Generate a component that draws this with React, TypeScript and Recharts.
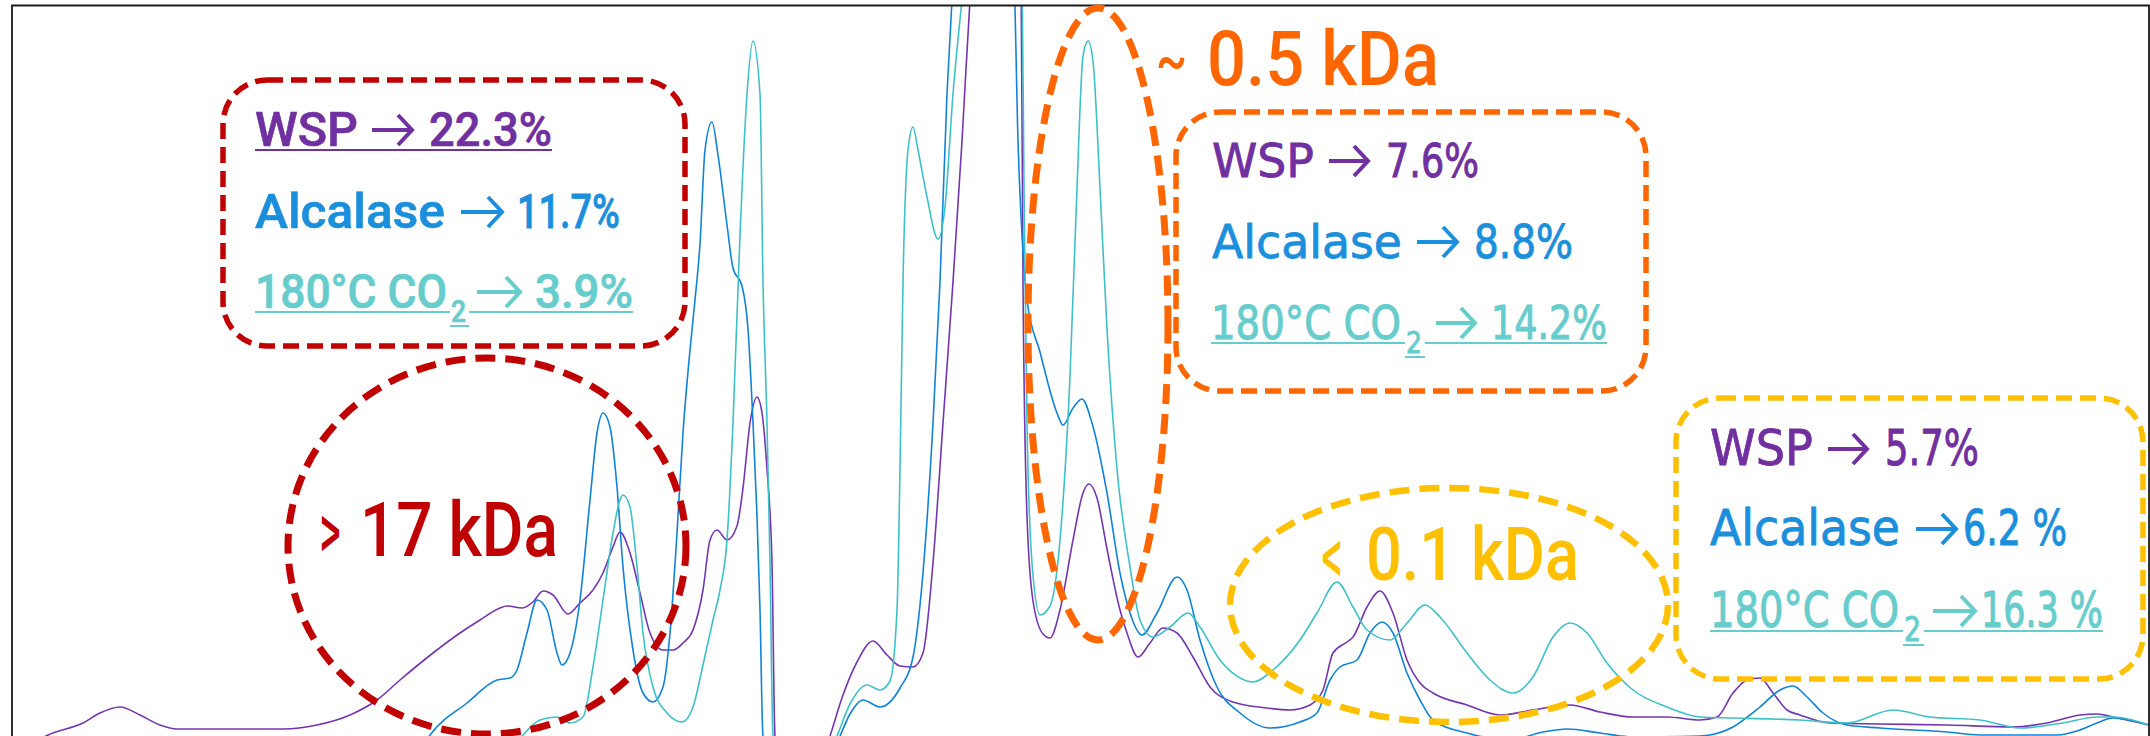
import { useLayoutEffect, useRef, useState } from "react"
import type { ReactNode } from "react"
import { LineChart, Line, XAxis, YAxis } from "recharts"

// elution position (same units as the x axis) and detector response
const wsp: [number, number][] = [
  [30, -9], [48, 1], [83, 13], [100, 23], [120, 29], [140, 21], [160, 11], [177, 7],
  [233, 7], [283, 7], [317, 11], [350, 21], [377, 36], [400, 56], [433, 83], [460, 103],
  [480, 116], [500, 128], [507, 130], [522, 128], [533, 134], [543, 145], [553, 141],
  [568, 122], [580, 133], [593, 146], [603, 163], [613, 189], [620, 204], [630, 183],
  [640, 143], [650, 103], [663, 86], [673, 86], [683, 93], [693, 106], [703, 146],
  [710, 196], [717, 206], [727, 196], [737, 210], [743, 248], [750, 313], [757, 339],
  [762, 323], [767, 267], [772, 173], [775, 0], [790, -44], [815, -44], [830, 0],
  [843, 41], [857, 74], [873, 95], [887, 81], [900, 70], [913, 69], [923, 83], [933, 173],
  [943, 313], [953, 454], [962, 595], [970, 736], [980, 850], [995, 900], [1010, 850],
  [1021, 760], [1023, 454], [1027, 220], [1033, 135], [1043, 102], [1050, 98], [1060, 126],
  [1073, 196], [1083, 243], [1089, 252], [1097, 238], [1107, 187], [1120, 126], [1127, 103],
  [1138, 79], [1150, 93], [1163, 108], [1177, 103], [1193, 79], [1210, 49], [1233, 34],
  [1267, 28], [1290, 26], [1310, 31], [1323, 46], [1333, 83], [1347, 94], [1353, 99],
  [1367, 129], [1380, 145], [1393, 123], [1407, 76], [1420, 53], [1433, 43], [1467, 31],
  [1500, 21], [1533, 26], [1570, 31], [1600, 24], [1633, 19], [1667, 19], [1700, 16],
  [1717, 19], [1733, 43], [1747, 56], [1760, 58], [1773, 43], [1787, 26], [1800, 21],
  [1830, 13], [1880, 12], [1947, 11], [2013, 9], [2047, 13], [2080, 21], [2097, 22],
  [2113, 19], [2149, 11],
]

const alcalase: [number, number][] = [
  [420, -14], [430, 1], [467, 33], [497, 56], [510, 58], [517, 66], [527, 103], [537, 136],
  [547, 126], [557, 83], [562, 71], [570, 83], [580, 136], [590, 236], [597, 303], [603, 323],
  [610, 309], [617, 249], [623, 169], [633, 86], [643, 43], [653, 34], [663, 49], [670, 103],
  [677, 203], [683, 303], [690, 386], [695, 436], [700, 492], [705, 586], [712, 614],
  [718, 581], [727, 511], [733, 468], [742, 450], [748, 407], [753, 313], [757, 220],
  [760, 126], [763, 0], [790, -54], [815, -54], [840, 0], [850, 22], [863, 36], [880, 29],
  [900, 48], [913, 79], [920, 131], [933, 313], [940, 454], [947, 642], [952, 736],
  [965, 850], [985, 900], [1005, 850], [1014, 760], [1018, 595], [1022, 501], [1027, 436],
  [1040, 384], [1057, 323], [1063, 311], [1073, 328], [1082, 337], [1092, 313], [1107, 243],
  [1120, 163], [1130, 123], [1142, 101], [1157, 123], [1177, 159], [1187, 146], [1200, 96],
  [1217, 49], [1240, 23], [1270, 8], [1300, 14], [1317, 23], [1330, 56], [1340, 69],
  [1357, 76], [1370, 103], [1382, 114], [1393, 103], [1407, 63], [1420, 36], [1433, 16],
  [1467, 3], [1483, -1], [1510, -4], [1543, 4], [1567, 7], [1600, 3], [1633, -1], [1700, 0],
  [1733, 9], [1760, 29], [1780, 46], [1793, 50], [1807, 39], [1823, 23], [1847, 11],
  [1880, 8], [1947, 4], [1980, 1], [2057, 1], [2080, 6], [2097, 13], [2113, 18], [2149, 11],
]

const co2: [number, number][] = [
  [515, -9], [523, 1], [540, 16], [557, 19], [570, 13], [583, 19], [593, 69], [603, 136],
  [613, 203], [620, 236], [623, 241], [630, 229], [637, 169], [643, 103], [653, 49],
  [667, 23], [682, 14], [693, 29], [703, 71], [713, 116], [720, 146], [727, 196], [733, 313],
  [740, 501], [747, 642], [753, 695], [760, 642], [763, 454], [767, 313], [770, 173],
  [773, 0], [795, -50], [815, -50], [837, 0], [850, 32], [867, 51], [880, 46], [890, 55],
  [897, 126], [900, 267], [903, 454], [908, 586], [913, 609], [918, 586], [927, 539],
  [938, 497], [945, 529], [953, 642], [962, 736], [975, 850], [995, 900], [1012, 850],
  [1022, 760], [1024, 548], [1027, 313], [1032, 173], [1040, 121], [1050, 130], [1060, 196],
  [1070, 360], [1077, 548], [1083, 680], [1088, 695], [1093, 675], [1100, 548], [1107, 407],
  [1117, 267], [1130, 169], [1140, 116], [1153, 99], [1170, 109], [1188, 123], [1200, 109],
  [1220, 76], [1240, 58], [1253, 54], [1273, 66], [1300, 96], [1317, 123], [1337, 154],
  [1353, 129], [1367, 106], [1390, 96], [1407, 113], [1425, 131], [1440, 119], [1467, 83],
  [1490, 56], [1513, 43], [1533, 59], [1553, 99], [1570, 113], [1587, 103], [1607, 73],
  [1633, 46], [1667, 29], [1700, 19], [1733, 18], [1800, 16], [1847, 13], [1893, 26],
  [1930, 19], [1980, 16], [2020, 8], [2063, 13], [2097, 19], [2113, 19], [2149, 11],
]

const fractionLabels = ["17 kDa", "0.5 kDa", "0.1 kDa"]
const wspShare = ["22.3%", "7.6%", "5.7%"]
const alcalaseShare = ["11.7%", "8.8%", "6.2 %"]
const co2Share = ["3.9%", "14.2%", "16.3 %"]

const PURPLE = "#7030A0"
const BLUE = "#1B8FDB"
const TEAL = "#66CCCC"
const RED = "#C00000"
const ORANGE = "#FF6600"
const GOLD = "#FFC000"

const rows = (pts: [number, number][]) => pts.map(([x, y]) => ({ x, y }))

// text squeezed/stretched horizontally to span [x0, x1]
function FitText(props: {
  x0: number
  x1: number
  y: number
  size: number
  fill: string
  family?: string
  weight?: number
  thicken?: number
  children: ReactNode
}) {
  const { x0, x1, y, size, fill, family, weight, thicken = 0, children } = props
  const ref = useRef<SVGTextElement>(null)
  const [sx, setSx] = useState(1)
  useLayoutEffect(() => {
    const n = ref.current?.getComputedTextLength()
    if (n) setSx((x1 - x0) / n)
  }, [x0, x1, size, family])
  return (
    <text
      ref={ref}
      transform={`translate(${x0} ${y}) scale(${sx} 1)`}
      fontSize={size}
      fontFamily={family}
      fontWeight={weight}
      fill={fill}
      stroke={thicken ? fill : undefined}
      strokeWidth={thicken ? thicken / sx : undefined}
    >
      {children}
    </text>
  )
}

// [name start, name end, arrow start, arrow end, value start, value end]
type Span = number[]

type BoxProps = {
  x: number
  y: number
  w: number
  h: number
  color: string
  font: string
  weight: number
  thicken: number
  base: number[]
  l1: Span
  l2: Span
  l3: Span
  sub: number[]
  size: number
  idx: number
  ulFirst?: boolean
}

function Arrow({ x0, x1, base, color }: { x0: number; x1: number; base: number; color: string }) {
  const mid = base - 16
  const hw = 15
  return (
    <g fill="none" stroke={color} strokeWidth={4}>
      <line x1={x0} x2={x1 - 2} y1={mid} y2={mid} />
      <polyline points={`${x1 - hw},${mid - hw} ${x1 - 1},${mid} ${x1 - hw},${mid + hw}`} />
    </g>
  )
}

function ShareBox(p: BoxProps) {
  const t = { size: p.size, family: p.font, weight: p.weight, thicken: p.thicken }
  const lines = [
    { s: p.l1, name: "WSP", val: wspShare[p.idx], c: PURPLE, b: p.base[0] },
    { s: p.l2, name: "Alcalase", val: alcalaseShare[p.idx], c: BLUE, b: p.base[1] },
  ]
  const b3 = p.base[2]
  return (
    <g>
      <rect x={p.x} y={p.y} width={p.w} height={p.h} rx={44} fill="none" stroke={p.color} strokeWidth={5.5} strokeDasharray="16 8" />
      {lines.map((l) => (
        <g key={l.name}>
          <FitText x0={l.s[0]} x1={l.s[1]} y={l.b} fill={l.c} {...t}>{l.name}</FitText>
          <Arrow x0={l.s[2]} x1={l.s[3]} base={l.b} color={l.c} />
          <FitText x0={l.s[4]} x1={l.s[5]} y={l.b} fill={l.c} {...t}>{l.val}</FitText>
        </g>
      ))}
      {p.ulFirst && <line x1={p.l1[0]} x2={p.l1[5]} y1={p.base[0] + 4} y2={p.base[0] + 4} stroke={PURPLE} strokeWidth={2} />}
      <FitText x0={p.l3[0]} x1={p.l3[1]} y={b3} fill={TEAL} {...t}>180°C CO</FitText>
      <FitText x0={p.sub[0]} x1={p.sub[1]} y={b3 + 14} fill={TEAL} {...t} size={Math.round(p.size * 0.66)}>2</FitText>
      <Arrow x0={p.l3[2]} x1={p.l3[3]} base={b3} color={TEAL} />
      <FitText x0={p.l3[4]} x1={p.l3[5]} y={b3} fill={TEAL} {...t}>{co2Share[p.idx]}</FitText>
      <g stroke={TEAL} strokeWidth={2}>
        <line x1={p.l3[0]} x2={p.sub[0] - 1} y1={b3 + 4} y2={b3 + 4} />
        <line x1={p.sub[0] - 1} x2={p.sub[1] + 3} y1={b3 + 18} y2={b3 + 18} />
        <line x1={p.sub[1] + 3} x2={p.l3[5]} y1={b3 + 4} y2={b3 + 4} />
      </g>
    </g>
  )
}

function Annotations() {
  return (
    <svg width={2150} height={736} style={{ position: "absolute", left: 0, top: 0, pointerEvents: "none" }}>
      <path d="M12,740 L12,5.5 L2149,5.5 L2149,740" fill="none" stroke="#1a1a1a" strokeWidth={1.8} />

      <ShareBox x={223} y={80} w={462} h={266} color={RED} font="Roboto" weight={500} thicken={0.6}
        base={[146, 228, 308]}
        l1={[255, 358, 372, 413, 429, 552]}
        l2={[255, 445, 461, 503, 517, 620]}
        l3={[255, 447, 477, 521, 535, 633]} sub={[451, 466]}
        size={48} idx={0} ulFirst />
      <ShareBox x={1176} y={112} w={470} h={279} color={ORANGE} font="DejaVu Sans" weight={400} thicken={0.8}
        base={[177, 258, 339]}
        l1={[1212, 1314, 1329, 1369, 1386, 1479]}
        l2={[1212, 1402, 1417, 1458, 1474, 1573]}
        l3={[1211, 1401, 1436, 1476, 1491, 1607]} sub={[1406, 1422]}
        size={47} idx={1} />
      <ShareBox x={1676} y={398} w={467} h={281} color={GOLD} font="DejaVu Sans" weight={400} thicken={0.8}
        base={[465, 545, 627]}
        l1={[1710, 1813, 1828, 1868, 1885, 1979]}
        l2={[1710, 1900, 1916, 1957, 1963, 2067]}
        l3={[1710, 1899, 1933, 1976, 1981, 2103]} sub={[1904, 1921]}
        size={50} idx={2} />

      <ellipse cx={487} cy={546} rx={199} ry={188} fill="none" stroke={RED} strokeWidth={7} strokeDasharray="20 10" />
      <ellipse cx={1098} cy={324} rx={70} ry={316} fill="none" stroke={ORANGE} strokeWidth={7} strokeDasharray="20 10" />
      <ellipse cx={1449} cy={605} rx={219} ry={117} fill="none" stroke={GOLD} strokeWidth={6.5} strokeDasharray="20 10" />

      <FitText x0={319} x1={342} y={553} size={62} family="DejaVu Sans" weight={700} fill={RED}>{">"}</FitText>
      <FitText x0={360} x1={558} y={556} size={76} family="Roboto" weight={500} fill={RED}>{fractionLabels[0]}</FitText>
      <FitText x0={1156} x1={1187} y={80} size={60} family="Roboto" weight={500} fill={ORANGE}>{"~"}</FitText>
      <FitText x0={1207} x1={1439} y={85} size={76} family="Roboto" weight={500} fill={ORANGE}>{fractionLabels[1]}</FitText>
      <FitText x0={1320} x1={1343} y={578} size={62} family="DejaVu Sans" weight={700} fill={GOLD}>{"<"}</FitText>
      <FitText x0={1366} x1={1579} y={580} size={74} family="Roboto" weight={500} fill={GOLD}>{fractionLabels[2]}</FitText>
    </svg>
  )
}

export default function App() {
  return (
    <div style={{ position: "absolute", left: 0, top: 0, width: 2150, height: 736, background: "#fff" }}>
      <LineChart width={2150} height={736} margin={{ top: 5.5, right: 1, left: 12, bottom: 0 }}>
        <XAxis type="number" dataKey="x" domain={[12, 2149]} allowDataOverflow hide />
        <YAxis type="number" domain={[0, 730.5]} allowDataOverflow hide />
        <Line data={rows(wsp)} dataKey="y" type="monotone" stroke="#7336B0" strokeWidth={1.6} dot={false} isAnimationActive={false} />
        <Line data={rows(alcalase)} dataKey="y" type="monotone" stroke="#1282D6" strokeWidth={1.6} dot={false} isAnimationActive={false} />
        <Line data={rows(co2)} dataKey="y" type="monotone" stroke="#3EC1C6" strokeWidth={1.6} dot={false} isAnimationActive={false} />
      </LineChart>
      <Annotations />
    </div>
  )
}
